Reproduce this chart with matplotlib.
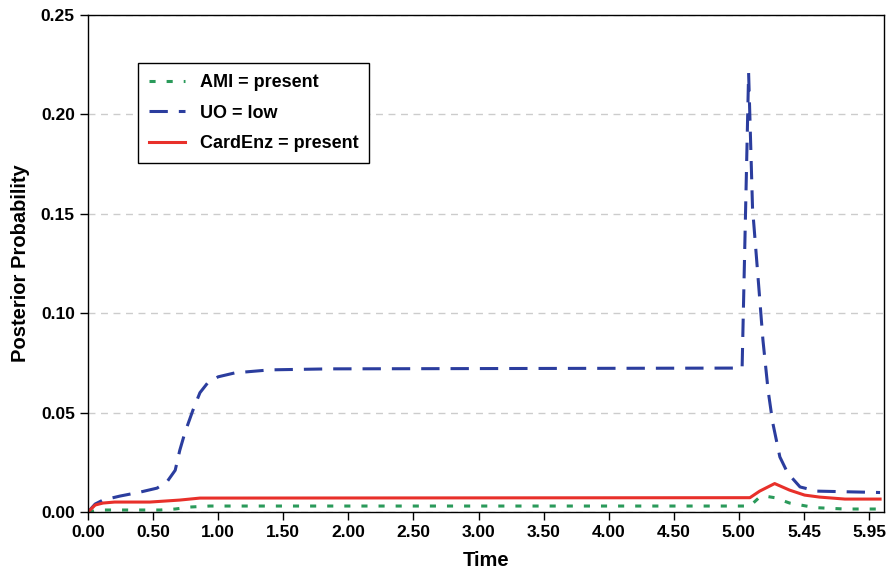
import numpy as np
import matplotlib.pyplot as plt

plt.rcParams["font.family"] = ["Liberation Sans", "DejaVu Sans"]
plt.rcParams["font.weight"] = "bold"

# x axis is categorical-like: equally spaced labels
tick_labels = ["0.00", "0.50", "1.00", "1.50", "2.00", "2.50", "3.00",
               "3.50", "4.00", "4.50", "5.00", "5.45", "5.95"]

# positions are in tick-spacing units
uo_pos = [0, 0.11, 0.23, 0.49, 0.80, 1.06, 1.21, 1.34, 1.41, 1.49, 1.61, 1.72,
          1.84, 2.00, 2.26, 2.80, 3.72, 10.05, 10.15, 10.21, 10.29, 10.37, 10.45,
          10.52, 10.63, 10.75, 10.94, 11.20, 12.17]
uo_val = [0, 0.004, 0.006, 0.008, 0.010, 0.012, 0.015, 0.021, 0.031, 0.040, 0.051,
          0.060, 0.065, 0.068, 0.070, 0.0715, 0.072, 0.0724, 0.2208, 0.153, 0.120,
          0.0865, 0.061, 0.045, 0.0277, 0.0196, 0.0126, 0.0105, 0.0098]

card_pos = [0, 0.11, 0.23, 0.41, 0.95, 1.18, 1.41, 1.72, 10.17, 10.32, 10.55,
            10.78, 11.01, 11.24, 11.63, 12.17]
card_val = [0, 0.0035, 0.0045, 0.005, 0.005, 0.0055, 0.006, 0.007, 0.0072, 0.0105,
            0.0143, 0.011, 0.0085, 0.0075, 0.0065, 0.0065]

ami_pos = [0, 0.18, 1.11, 1.34, 1.57, 1.87, 10.17, 10.32, 10.40, 10.55, 10.78,
           11.17, 11.63, 12.17]
ami_val = [0, 0.001, 0.001, 0.0015, 0.0025, 0.003, 0.003, 0.0075, 0.008, 0.0072,
           0.0045, 0.0022, 0.0015, 0.0015]

fig = plt.figure(figsize=(8.96, 5.72), dpi=100)
ax = fig.add_axes([0.0982, 0.1049, 0.8884, 0.8689])

ax.plot(ami_pos, ami_val, color="#2a9a5a", lw=2.2, dashes=(2, 3.6),
        label="AMI = present")
ax.plot(uo_pos, uo_val, color="#2b3d9e", lw=2.2, dashes=(6, 3.6),
        label="UO = low")
ax.plot(card_pos, card_val, color="#e8302a", lw=2.2, label="CardEnz = present")

ax.set_xlim(0, 12.23)
ax.set_ylim(0, 0.25)
ax.set_xticks(np.arange(len(tick_labels)))
ax.set_xticklabels(tick_labels)
ax.set_yticks([0, 0.05, 0.10, 0.15, 0.20, 0.25])
ax.set_yticklabels(["0.00", "0.05", "0.10", "0.15", "0.20", "0.25"])
ax.tick_params(labelsize=12.5, length=6, width=1, direction="out")
for lbl in ax.get_xticklabels() + ax.get_yticklabels():
    lbl.set_fontweight("bold")

ax.yaxis.grid(True, color="#cccccc", ls=(0, (5, 4)), lw=1)
ax.set_axisbelow(True)
for s in ax.spines.values():
    s.set_linewidth(1)

ax.set_xlabel("Time", fontsize=14.5, fontweight="bold", labelpad=8)
ax.set_ylabel("Posterior Probability", fontsize=14.5, fontweight="bold",
              labelpad=8)

leg = ax.legend(loc="upper left", bbox_to_anchor=(0.063, 0.903), fontsize=13,
                fancybox=False, edgecolor="black", framealpha=1,
                borderaxespad=0, handlelength=2.0, handletextpad=0.8,
                borderpad=0.6, labelspacing=0.75)
leg.get_frame().set_linewidth(1)
for t in leg.get_texts():
    t.set_fontweight("bold")

fig.savefig("out.png", dpi=100)
